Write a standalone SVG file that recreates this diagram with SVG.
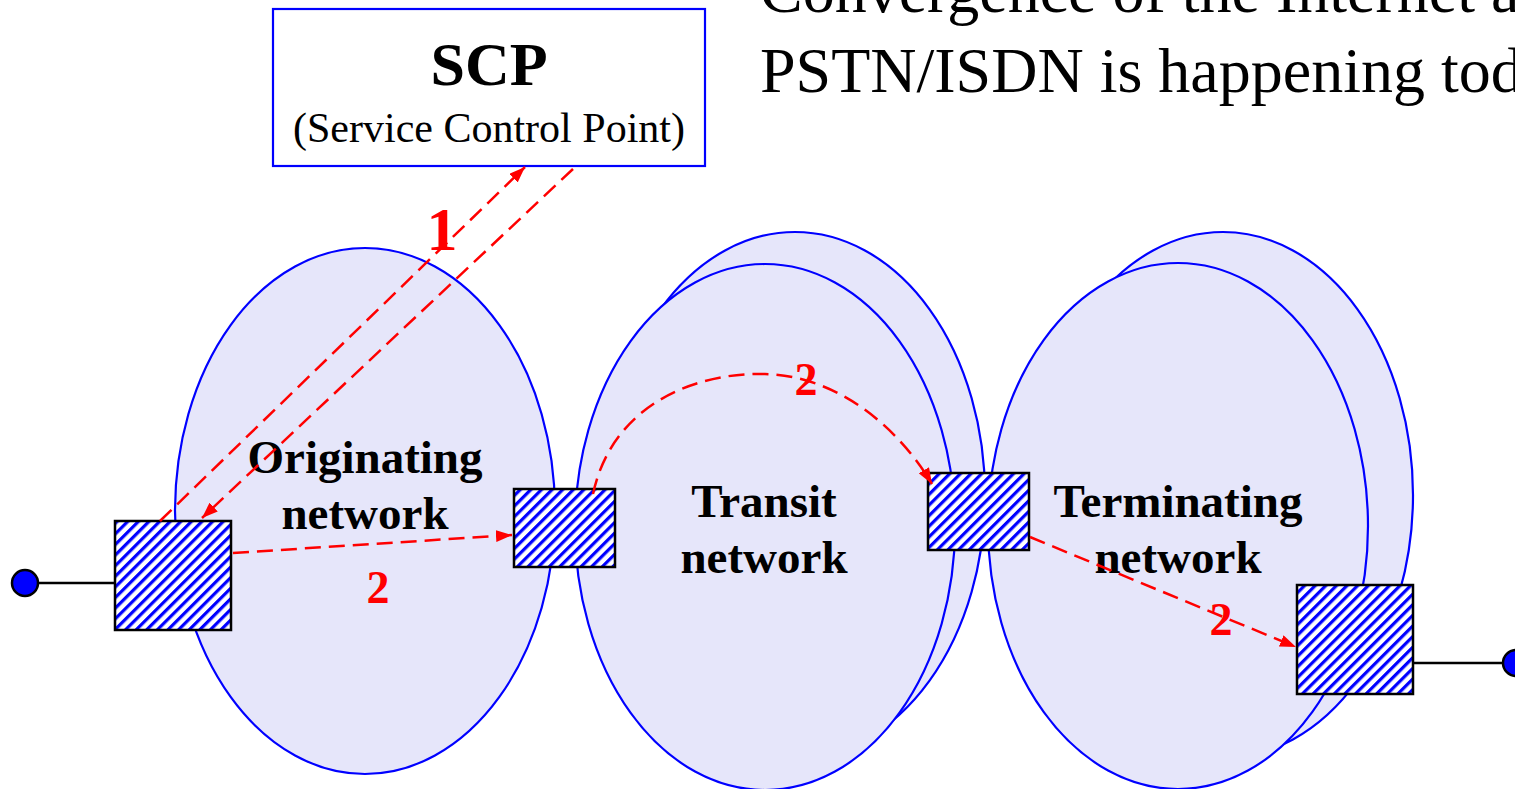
<svg xmlns="http://www.w3.org/2000/svg" width="1515" height="789" viewBox="0 0 1515 789">
<defs>
<pattern id="hatch" width="7.5" height="7.5" patternUnits="userSpaceOnUse" patternTransform="rotate(45)">
<rect width="7.5" height="7.5" fill="#fff"/>
<rect width="3.2" height="7.5" fill="#0000ff"/>
</pattern>
<marker id="arr" viewBox="0 0 16 12" refX="16" refY="6" markerWidth="16" markerHeight="12" markerUnits="userSpaceOnUse" orient="auto">
<path d="M0,0 L16,6 L0,12 z" fill="#ff0000"/>
</marker>
</defs>
<style>
.net{fill:#e6e6fa;stroke:#0000ff;stroke-width:2.2}
.sw{fill:url(#hatch);stroke:#000;stroke-width:2.5}
.lbl{font-family:"Liberation Serif","Times New Roman",serif;font-weight:bold;font-size:47px;fill:#000;text-anchor:middle}
.num{font-family:"Liberation Serif","Times New Roman",serif;font-weight:bold;font-size:46px;fill:#ff0000;text-anchor:middle}
.con{fill:none;stroke:#ff0000;stroke-width:2.5;stroke-dasharray:16 8}
.wire{stroke:#000;stroke-width:2.5}
.term{fill:#0000ff;stroke:#000;stroke-width:2.5}
</style>
<text x="760" y="12" font-family="'Liberation Serif','Times New Roman',serif" font-size="64">Convergence of the Internet a</text>
<text x="760" y="92" font-family="'Liberation Serif','Times New Roman',serif" font-size="64">PSTN/ISDN is happening tod</text>
<g id="originating">
<ellipse class="net" cx="365" cy="511" rx="190" ry="263"/>
<text class="lbl" x="365" y="473">Originating</text>
<text class="lbl" x="365" y="529">network</text>
</g>
<g id="transit">
<ellipse class="net" cx="795" cy="495" rx="190" ry="263"/>
<ellipse class="net" cx="765" cy="527" rx="190" ry="263"/>
<text class="lbl" x="764" y="517">Transit</text>
<text class="lbl" x="764" y="573">network</text>
</g>
<g id="terminating">
<ellipse class="net" cx="1223" cy="495" rx="190" ry="263"/>
<ellipse class="net" cx="1178" cy="526" rx="190" ry="263"/>
<text class="lbl" x="1178" y="517">Terminating</text>
<text class="lbl" x="1178" y="573">network</text>
</g>
<g id="scp">
<rect x="273" y="9" width="432" height="157" fill="#fff" stroke="#0000ff" stroke-width="2.2"/>
<text x="489" y="85" font-family="'Liberation Serif','Times New Roman',serif" font-weight="bold" font-size="62" text-anchor="middle">SCP</text>
<text x="489" y="142" font-family="'Liberation Serif','Times New Roman',serif" font-size="42" text-anchor="middle">(Service Control Point)</text>
</g>
<g id="term-left">
<line class="wire" x1="38" y1="583" x2="115" y2="583"/>
<circle class="term" cx="25" cy="583" r="13"/>
</g>
<g id="term-right">
<line class="wire" x1="1413" y1="663" x2="1503" y2="663"/>
<circle class="term" cx="1516" cy="663" r="13"/>
</g>
<g id="switch1"><rect class="sw" x="115" y="521" width="116" height="109"/></g>
<g id="switch2"><rect class="sw" x="514" y="489" width="101" height="78"/></g>
<g id="switch3"><rect class="sw" x="928" y="473" width="101" height="77"/></g>
<g id="switch4"><rect class="sw" x="1297" y="585" width="116" height="109"/></g>
<g id="connectors">
<line class="con" x1="160" y1="521" x2="525" y2="167" marker-end="url(#arr)"/>
<line class="con" x1="573" y1="169" x2="202" y2="518" marker-end="url(#arr)"/>
<line class="con" x1="233" y1="553" x2="512" y2="535" marker-end="url(#arr)"/>
<path class="con" d="M593,494 C612,405 695,372 765,374 C840,376 900,430 932,484" marker-end="url(#arr)"/>
<line class="con" x1="1030" y1="537" x2="1296" y2="647" marker-end="url(#arr)"/>
</g>
<g id="labels">
<text x="442" y="250" font-family="'Liberation Serif','Times New Roman',serif" font-weight="bold" font-size="62" fill="#ff0000" text-anchor="middle">1</text>
<text class="num" x="378" y="603">2</text>
<text class="num" x="806" y="395">2</text>
<text class="num" x="1221" y="635">2</text>
</g>
</svg>
